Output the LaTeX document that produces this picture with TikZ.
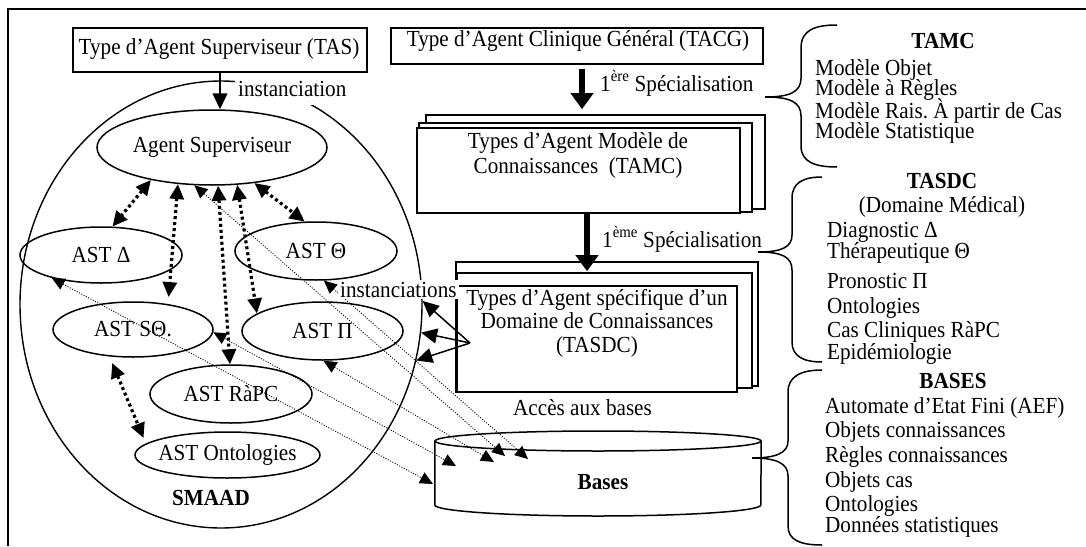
\documentclass[tikz,border=0pt]{standalone}
\usepackage{fontspec}
\setmainfont{Liberation Serif}[FakeStretch=0.92]
\usetikzlibrary{arrows.meta,shapes.geometric}
\newcommand\zb[1]{\makebox[0pt]{#1}}
\frenchspacing
\begin{document}
\begin{tikzpicture}[x=1pt,y=-1pt, font=\fontsize{23}{25}\selectfont\frenchspacing,
  box/.style={draw, line width=1.6pt, fill=white, inner sep=0pt},
  ell/.style={draw, ellipse, line width=1.5pt, inner sep=0pt},
  lbl/.style={inner sep=0pt, anchor=base west},
  ctr/.style={inner sep=0pt, anchor=base},
  dthick/.style={line width=3.2pt, dash pattern=on 3pt off 3pt, >={Triangle[length=15pt,width=14pt]}, <->},
  dthin/.style={line width=0.9pt, dash pattern=on 1pt off 1.6pt, >={Triangle[length=13pt,width=12pt]}, <->},
  spec/.style={line width=5.5pt, >={Triangle[length=16pt,width=22pt]}, ->},
  inst/.style={line width=1.5pt, >={Triangle[length=16pt,width=15pt]}, ->},
  brace/.style={line width=1.5pt},
  wlbl/.style={fill=white, anchor=base west},
]
\useasboundingbox (0,0) rectangle (1086,546);
% frame
\draw[line width=2pt] (8,546) -- (8,9) -- (1086,9);

% SMAAD and agents
\node[ell, line width=1.4pt, minimum width=402pt, minimum height=447pt] (smaad) at (221,304.5) {};
\node[ell, minimum width=230pt, minimum height=75pt] (as) at (212,147.5) {\zb{Agent Superviseur}};
\node[ell, minimum width=162pt, minimum height=56pt] (D) at (101,255) {\zb{AST Δ}};
\node[ell, minimum width=162pt, minimum height=58pt] (T) at (316,251) {\zb{AST Θ}};
\node[ell, minimum width=160pt, minimum height=55pt] (S) at (133,329.5) {\zb{AST SΘ.}};
\node[ell, minimum width=161pt, minimum height=58pt] (P) at (322.5,331) {\zb{AST Π}};
\node[ell, minimum width=162pt, minimum height=58pt] (R) at (231,394) {\zb{AST RàPC}};
\node[ell, minimum width=185pt, minimum height=46pt] (O) at (227.5,455) {\zb{AST Ontologies}};
\node[ctr] (smaadl) at (211,505) {\textbf{SMAAD}};

% Bases cylinder
\node[minimum width=326pt, minimum height=85pt, inner sep=0pt] (bases) at (598,473.5) {};
\draw[line width=1.5pt] (bases.north west |- 0,441) -- (bases.south west |- 0,505)
  arc[start angle=180, end angle=360, x radius=163pt, y radius=11pt] -- (bases.north east |- 0,441);
\draw[line width=1.5pt] (bases.center |- 0,441) ellipse [x radius=163pt, y radius=10pt];
\node[ctr] (basesl) at (603,489) {\textbf{Bases}};
\coordinate (h1) at (433,484);
\coordinate (h2) at (456,466);
\coordinate (h3) at (494,462);
\coordinate (h4) at (505,456);
\coordinate (h5) at (528,459);

% thick dotted links
\draw[dthick] (as.-152) -- (D.68);
\draw[dthick, shorten >=7pt] (as.-133) -- (S.36);
\draw[dthick] (as.-81) -- (R.92);
\draw[dthick] (as.-56) -- (P.165);
\draw[dthick] (as.-40) -- (T.111);
\draw[dthick, shorten <=7pt, shorten >=6pt] (S.-131) -- (O.172);

% thin dotted links to bases
\draw[dthin] (as.-115) -- (h4);
\draw[dthin] (D.-155) -- (h1);
\draw[dthin] (S.-2) -- (h2);
\draw[dthin] (T.-75) -- (h5);
\draw[dthin] (P.-88) -- (h3);

% top boxes
\node[box, minimum width=294pt, minimum height=44pt] (tas) at (220,50) {};
\node[ctr] (tast) at (219,54) {Type d’Agent Superviseur (TAS)};
\node[box, minimum width=372pt, minimum height=36pt] (tacg) at (577,46) {};
\node[ctr] (tacgt) at (578,46) {Type d’Agent Clinique Général (TACG)};

% TAMC stack
\node[box, minimum width=339pt, minimum height=94pt] (tamc3) at (595.5,162) {};
\node[box, minimum width=333pt, minimum height=89pt] (tamc2) at (585.5,167.5) {};
\node[box, minimum width=323pt, minimum height=85pt] (tamc) at (578.5,170.5) {};
\node[ctr] (tamct1) at (578,148) {Types d’Agent Modèle de};
\node[ctr] (tamct2) at (578,173) {Connaissances~~(TAMC)};

% TASDC stack
\node[box, minimum width=302pt, minimum height=124pt] (tasdc3) at (607,324) {};
\node[box, minimum width=295pt, minimum height=115pt] (tasdc2) at (604.5,330.5) {};
\node[box, minimum width=280pt, minimum height=106pt] (tasdc) at (597,339) {};
\draw[line width=1.6pt] (tasdc.north west) -- (tasdc.south west);
\node[ctr] (tasdct1) at (597,305) {Types d’Agent spécifique d’un};
\node[ctr] (tasdct2) at (597,328) {Domaine de Connaissances};
\node[ctr] (tasdct3) at (597,352) {(TASDC)};

% specialisation arrows
\draw[spec, shorten <=4pt, shorten >=5pt] ([xshift=5pt]tacg.south) -- ([xshift=5pt]tacg.south |- tamc3.north);
\node[lbl] (spec1) at (600,91) {1\textsuperscript{ère} Spécialisation};
\draw[spec, shorten >=1pt] ([xshift=8.5pt]tamc.south) -- ([xshift=8.5pt]tamc.south |- tasdc2.north);
\node[lbl] (spec2) at (602,247) {1\textsuperscript{ème} Spécialisation};

% instanciation labels and arrows
\node[wlbl, inner sep=3pt, text depth=6pt] (instl) at (235,96) {instanciation};
\draw[inst] (tas.south) -- (tas.south |- as.north);
\node[wlbl, inner sep=2pt] (instsl) at (338,297) {instanciations};
\coordinate (isrc) at (470,343);
\draw[inst] (isrc) -- (smaad.1);
\draw[inst] (isrc) -- (smaad.-8);
\draw[inst] (isrc) -- (smaad.-16);

\node[lbl] (acces) at (513,415) {Accès aux bases};

% braces
\draw[brace] (837,25) .. controls (815,25) and (801,30) .. (801,48) -- (801,78)
  .. controls (801,92) and (790,97) .. (765,97)
  .. controls (790,97) and (801,102) .. (801,116) -- (801,146)
  .. controls (801,162) and (815,167) .. (837,167);
\draw[brace] (822,177) .. controls (803,177) and (792,183) .. (792,198) -- (792,235)
  .. controls (792,247) and (782,252) .. (758,252)
  .. controls (782,252) and (792,257) .. (792,270) -- (792,342)
  .. controls (792,356) and (803,362) .. (822,362);
\draw[brace] (822,370) .. controls (800,370) and (788,377) .. (788,392) -- (788,441)
  .. controls (788,453) and (776,458) .. (752,458)
  .. controls (776,458) and (788,463) .. (788,476) -- (788,526)
  .. controls (788,540) and (800,545) .. (822,545);

% right lists
\node[ctr] (tamch) at (943,48) {\textbf{TAMC}};
\node[lbl] (tm1) at (815,75) {Modèle Objet};
\node[lbl] (tm2) at (815,95) {Modèle à Règles};
\node[lbl] (tm3) at (815,118) {Modèle Rais. À partir de Cas};
\node[lbl] (tm4) at (815,138) {Modèle Statistique};

\node[ctr] (tsh) at (942,188) {\textbf{TASDC}};
\node[ctr] (tsh2) at (942,212) {(Domaine Médical)};
\node[lbl] (ts1) at (827,237) {Diagnostic Δ};
\node[lbl] (ts2) at (827,258) {Thérapeutique Θ};
\node[lbl] (ts3) at (827,288) {Pronostic Π};
\node[lbl] (ts4) at (827,313) {Ontologies};
\node[lbl] (ts5) at (827,337) {Cas Cliniques RàPC};
\node[lbl] (ts6) at (827,359) {Epidémiologie};

\node[ctr] (bh) at (953,388) {\textbf{BASES}};
\node[lbl] (b1) at (825,413) {Automate d’Etat Fini (AEF)};
\node[lbl] (b2) at (825,437) {Objets connaissances};
\node[lbl] (b3) at (825,462) {Règles connaissances};
\node[lbl] (b4) at (825,487) {Objets cas};
\node[lbl] (b5) at (825,511) {Ontologies};
\node[lbl] (b6) at (825,532) {Données statistiques};
\end{tikzpicture}
\end{document}
